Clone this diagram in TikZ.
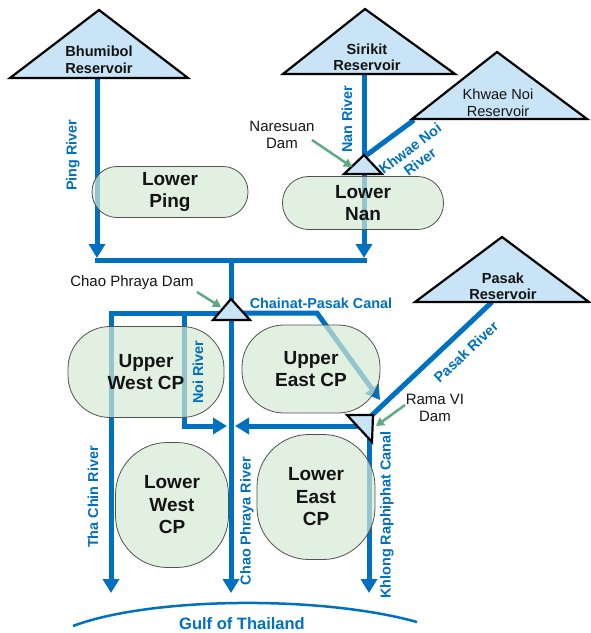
\documentclass[tikz,border=0pt]{standalone}
\usepackage{fontspec}
\setmainfont{Liberation Sans}
\usetikzlibrary{arrows.meta}
\definecolor{riv}{RGB}{0,112,192}
\definecolor{resfill}{RGB}{200,228,246}
\definecolor{boxfill}{RGB}{212,234,212}
\definecolor{boxline}{RGB}{80,80,80}
\definecolor{grn}{RGB}{95,170,130}
\definecolor{ink}{RGB}{20,20,20}
\begin{document}
\begin{tikzpicture}[x=1pt,y=-1pt,
  river/.style={draw=riv,line width=5pt},
  flow/.style={river,-{Triangle[length=14pt,width=16pt]}},
  gulf/.style={draw=riv,line width=2.5pt},
  resv/.style={draw=black,line width=2.2pt,fill=resfill,line join=miter},
  area/.style={draw=boxline,line width=0.8pt,fill=boxfill,fill opacity=0.7,text opacity=1,
    rectangle,inner sep=0pt,align=center,text=ink,font=\bfseries\fontsize{19}{22.5}\selectfont},
  restext/.style={align=center,text=ink,font=\bfseries\fontsize{14.6}{16.5}\selectfont},
  resthin/.style={align=center,text=ink,font=\fontsize{14.6}{16.5}\selectfont},
  damtext/.style={align=center,text=ink,font=\fontsize{15}{17}\selectfont},
  rivtext/.style={text=riv,align=center,font=\bfseries\fontsize{14.4}{16.5}\selectfont,inner sep=0pt},
  pointer/.style={draw=grn,line width=2.5pt,-{Triangle[length=8pt,width=9pt]}}]
\useasboundingbox (0,0) rectangle (591,633);

% junction coordinates
\coordinate (pingS) at (97,78);
\coordinate (pingE) at (97,258);
\coordinate (jL) at (94.5,260);
\coordinate (jR) at (367,260);
\coordinate (cpTop) at (231,260);
\coordinate (cpEnd) at (231,593);
\coordinate (nanS) at (364,74);
\coordinate (nanD) at (364,157);
\coordinate (kwS) at (414,120);
\coordinate (nanB) at (364,172);
\coordinate (nanE) at (364,258);
\coordinate (wc) at (231,313);
\coordinate (tcEnd) at (111,593);
\coordinate (noiS) at (184,313);
\coordinate (noiE) at (227,426);
\coordinate (ecBend) at (317,313);
\coordinate (ecEnd) at (380,400);
\coordinate (paS) at (492,302);
\coordinate (rama) at (370,417);
\coordinate (rmW) at (370,426);
\coordinate (rmE) at (235,426);
\coordinate (klS) at (369,432);
\coordinate (klE) at (369,593);
\coordinate (gL) at (73,626);
\coordinate (gR) at (417,622);

% rivers and canals
\draw[flow] (pingS) -- (pingE);
\draw[river] (jL) -- (jR);
\draw[flow] (cpTop) -- (cpEnd);
\draw[river] (nanS) -- (nanD);
\draw[river] (kwS) -- (nanD);
\draw[flow] (nanB) -- (nanE);
\draw[flow] (wc) -| (tcEnd);
\draw[flow] (noiS) |- (noiE);
\draw[flow] (wc) -- (ecBend) -- (ecEnd);
\draw[river] (paS) -- (rama);
\draw[flow] (rmW) -- (rmE);
\draw[flow] (klS) -- (klE);
\draw[gulf] (gL) .. controls (150,597) and (320,595) .. (gR);

% areas
\node[area,minimum width=156pt,minimum height=51pt,rounded corners=25pt] (lping) at (170,192) {Lower\\Ping};
\node[area,minimum width=161pt,minimum height=53pt,rounded corners=26pt] (lnan) at (363,203) {Lower\\Nan};
\node[area,minimum width=156pt,minimum height=91pt,rounded corners=42pt] (uwcp) at (146,372) {Upper\\West CP};
\node[area,minimum width=138pt,minimum height=88pt,rounded corners=42pt] (uecp) at (311,369) {Upper\\East CP};
\node[area,minimum width=113pt,minimum height=125pt,rounded corners=52pt] (lwcp) at (172,505) {Lower\\West\\CP};
\node[area,minimum width=118pt,minimum height=125pt,rounded corners=52pt] (lecp) at (316,497) {Lower\\East\\CP};

% reservoirs
\draw[resv] (10,78) -- (99,10) -- (188,78) -- cycle;
\draw[resv] (283,74) -- (365,9) -- (455,74) -- cycle;
\draw[resv] (412,119) -- (497,52) -- (587,119) -- cycle;
\draw[resv] (415,302) -- (502,237) -- (589,302) -- cycle;
\node[restext] (bhu) at (99,60) {Bhumibol\\Reservoir};
\node[restext] (sir) at (367,57.5) {Sirikit\\Reservoir};
\node[resthin] (kwn) at (498,103) {Khwae Noi\\Reservoir};
\node[restext] (pas) at (503,286.5) {Pasak\\Reservoir};

% dams
\draw[resv] (344,174) -- (364,155) -- (382,174) -- cycle;
\draw[resv] (213,320) -- (231,299) -- (250,320) -- cycle;
\draw[resv] (347,415) -- (373,415) -- (372,442) -- cycle;

\node[damtext] (naresuan) at (282,135) {Naresuan\\Dam};
\node[damtext] (cpdam) at (132,283) {Chao Phraya Dam};
\node[damtext] (rama6) at (435,408) {Rama VI\\Dam};
\coordinate (naTip) at (352,167);
\coordinate (cpTip) at (221,307);
\coordinate (rmTip) at (376,426);
\draw[pointer] (312,140) -- (naTip);
\draw[pointer] (197,292) -- (cpTip);
\draw[pointer] (405,405) -- (rmTip);

% river labels
\node[rivtext,rotate=90] (lpingr) at (73,155) {Ping River};
\node[rivtext,rotate=90] (lnanr) at (347,119) {Nan River};
\node[rivtext,rotate=37] (lkw) at (415,155) {Khwae Noi\\River};
\node[rivtext] (lchai) at (321,303) {Chainat-Pasak Canal};
\node[rivtext,rotate=90] (lnoi) at (198,372) {Noi River};
\node[rivtext,rotate=90] (ltc) at (93,497) {Tha Chin River};
\node[rivtext,rotate=90] (lcp) at (247,521) {Chao Phraya River};
\node[rivtext,rotate=43] (lpas) at (466,352) {Pasak River};
\node[rivtext,rotate=90] (lkl) at (387,515) {Khlong Raphiphat Canal};
\node[rivtext,font=\bfseries\fontsize{16.5}{18}\selectfont] (lgulf) at (242,624) {Gulf of Thailand};
\end{tikzpicture}
\end{document}
